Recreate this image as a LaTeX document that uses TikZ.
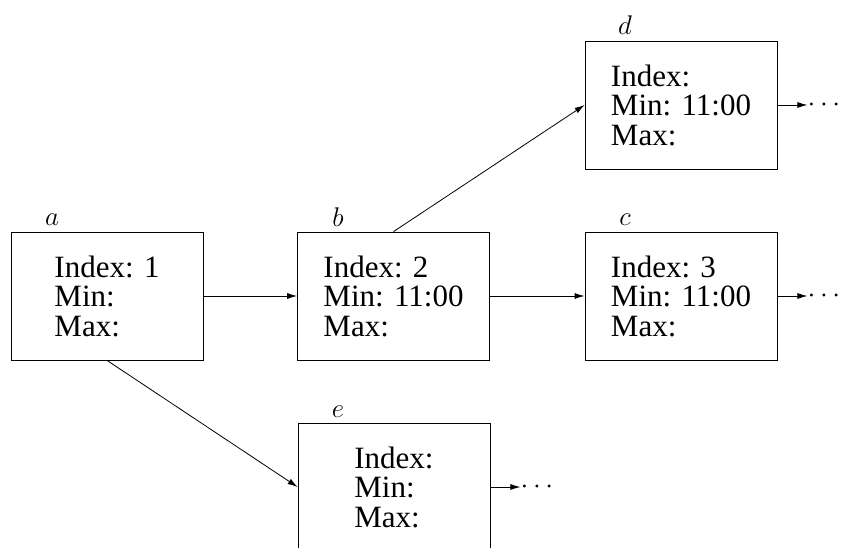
\RequirePackage{fix-cm}
\documentclass[tikz,border=0pt]{standalone}
\usepackage{fontspec}
\setmainfont{Liberation Serif}
\usetikzlibrary{arrows.meta,calc}
\begin{document}
\begin{tikzpicture}[x=1pt,y=-1pt,
  recbox/.style={draw, line width=0.8pt, minimum width=192pt, minimum height=128pt,
    align=left, inner sep=0pt, font=\fontsize{31}{29.5}\selectfont},
  lbl/.style={anchor=base, inner sep=0pt, font=\fontsize{27}{30}\selectfont},
  conn/.style={line width=0.8pt, -{Latex[length=10pt,width=6pt]}},
  dots/.style={anchor=west, inner sep=0pt, font=\fontsize{28}{28}\selectfont}]
\useasboundingbox (0,0) rectangle (841,548);
\node[recbox] (a) at (107,296) {Index: 1\\Min:\\Max:};
\node[recbox] (b) at (393.5,296) {Index: 2\\Min: 11:00\\Max:};
\node[recbox] (c) at (681,296) {Index: 3\\Min: 11:00\\Max:};
\node[recbox] (d) at (681,105) {Index:\\Min: 11:00\\Max:};
\node[recbox] (e) at (394,487) {Index:\\Min:\\Max:};
\node[lbl] (la) at (52,226) {$a$};
\node[lbl] (lb) at (338,227) {$b$};
\node[lbl] (lc) at (625,226) {$c$};
\node[lbl] (ld) at (625,35) {$d$};
\node[lbl] (le) at (338,417) {$e$};
\draw[conn] (a.east) -- (b.west);
\draw[conn] (b.east) -- (c.west);
\draw[conn] (b.north) -- (d.west);
\draw[conn] (a.south) -- (e.west);
\coordinate (cd) at ($(d.east)+(30,0)$);
\coordinate (cc) at ($(c.east)+(30,0)$);
\coordinate (ce) at ($(e.east)+(30,0)$);
\draw[conn] (d.east) -- (cd);
\draw[conn] (c.east) -- (cc);
\draw[conn] (e.east) -- (ce);
\node[dots] (dd) at (cd) {$\cdots$};
\node[dots] (dc) at (cc) {$\cdots$};
\node[dots] (de) at (ce) {$\cdots$};
\end{tikzpicture}
\end{document}
